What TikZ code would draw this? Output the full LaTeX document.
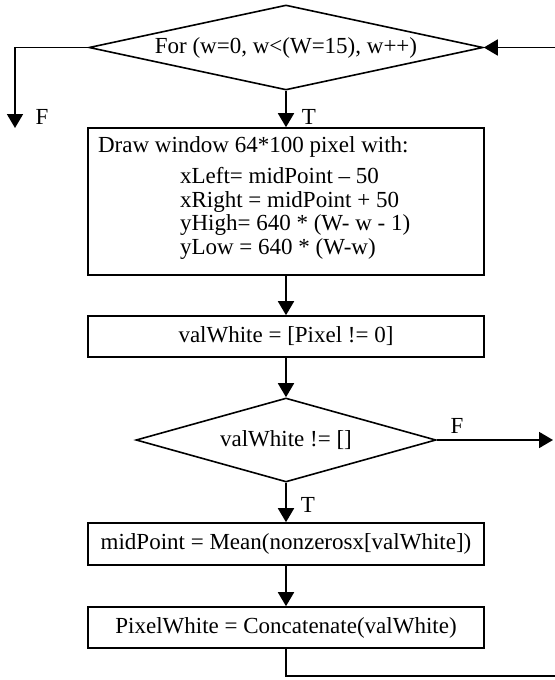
\documentclass[tikz,border=0pt]{standalone}
\usepackage{fontspec}
\setmainfont{Liberation Serif}
\usetikzlibrary{shapes,arrows.meta}

\begin{document}
\begin{tikzpicture}[x=0.5pt, y=-0.5pt, line width=0.9pt, font=\fontsize{11.5}{11.8}\selectfont,
box node/.style={rectangle, draw, line width=0.8pt, minimum width=198pt, inner sep=0pt},
dec node/.style={diamond, draw, line width=0.8pt, inner sep=0pt},
arr/.style={-{Triangle[length=7pt,width=8pt]}},
lbl/.style={inner sep=0pt}]
\useasboundingbox (0,0) rectangle (555,680);
\node[dec node, shape aspect=4.6, minimum width=197pt, minimum height=42.5pt] (for) at (286,47.5) {For (w=0, w<(W=15), w++)};
\node[box node, minimum height=73.5pt] (win) at (286,201.5) {};
\node[anchor=north west, align=left, inner xsep=5pt, inner ysep=4pt] (wintxt) at (win.north west) {Draw window 64*100 pixel with:\\[4pt]
\hspace*{41pt}xLeft= midPoint – 50\\
\hspace*{41pt}xRight = midPoint + 50\\
\hspace*{41pt}yHigh= 640 * (W- w - 1)\\
\hspace*{41pt}yLow = 640 * (W-w)};
\node[box node, minimum height=20.5pt] (val) at (286,336.5) {valWhite = [Pixel != 0]};
\node[dec node, shape aspect=3.6, minimum width=150pt, minimum height=42pt] (chk) at (286,440) {valWhite != []};
\node[box node, minimum height=21pt] (mid) at (286,544) {midPoint = Mean(nonzerosx[valWhite])};
\node[box node, minimum height=20.5pt] (cat) at (286,627.5) {PixelWhite = Concatenate(valWhite)};
\coordinate (fout) at (15,128);
\coordinate (back) at (555,47.5);
\coordinate (chkout) at (553,440);
\coordinate (loopend) at (555,676);
\node[lbl] (f1) at (42,117) {F};
\node[lbl] (t1) at (309,117) {T};
\node[lbl] (f2) at (457,426) {F};
\node[lbl] (t2) at (308,505) {T};
\path[arr]
(for) edge (win)
(win) edge (val)
(val) edge (chk)
(chk) edge (mid)
(mid) edge (cat)
(back) edge (for.east)
(chk.east) edge (chkout);
\draw[arr] (for.west) -| (fout);
\draw (cat.south) |- (loopend);
\end{tikzpicture}
\end{document}
